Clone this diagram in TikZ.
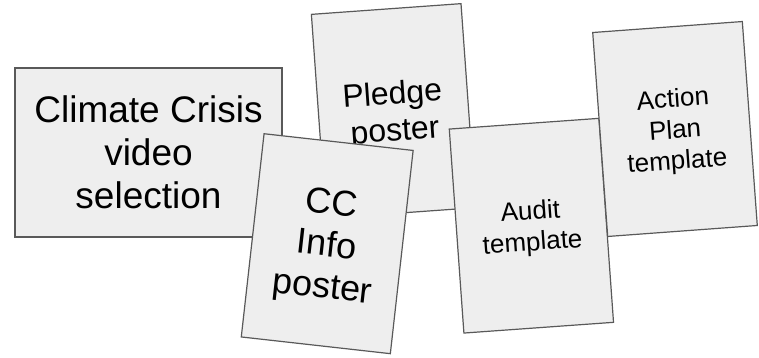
\documentclass[tikz,border=0pt]{standalone}
\usepackage{fontspec}
\setmainfont{Liberation Sans}
\definecolor{boxfill}{HTML}{EEEEEE}
\definecolor{boxline}{HTML}{595959}
\begin{document}
\begin{tikzpicture}[x=1bp,y=1bp,
  card/.style={draw=boxline, fill=boxfill, line width=1.2bp,
    minimum width=150bp, minimum height=204.5bp, inner sep=0pt,
    align=center, text=black, text depth=0pt},
  bigfont/.style={font=\fontsize{37bp}{43bp}\selectfont},
  midfont/.style={font=\fontsize{32bp}{37bp}\selectfont},
  ccfont/.style={font=\fontsize{36bp}{42bp}\selectfont},
  smallfont/.style={font=\fontsize{26bp}{31bp}\selectfont}
]
\useasboundingbox (0,0) rectangle (759,357);
\node[card, bigfont, minimum width=267bp, minimum height=169bp] (climate)
  at (148.5,204.5) {Climate Crisis\\video\\selection};
\node[card, midfont, rotate=4.1] (pledge) at (393.5,246) {Pledge\\poster};
\node[card, ccfont, rotate=-6.4] (cc) at (327.2,113.3) {CC\\Info\\poster};
\node[card, smallfont, rotate=4.1] (audit) at (531.4,131.3) {Audit\\template};
\node[card, smallfont, rotate=4.2] (action) at (675,228) {Action\\Plan\\template};
\end{tikzpicture}
\end{document}
